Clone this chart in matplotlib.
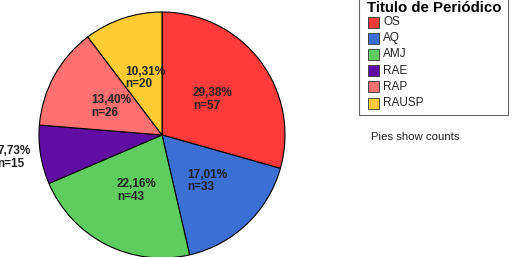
import matplotlib.pyplot as plt
from matplotlib.patches import Rectangle

# data
journals = ["OS", "AQ", "AMJ", "RAE", "RAP", "RAUSP"]
counts = [57, 33, 43, 15, 26, 20]
pct_labels = ["29,38%", "17,01%", "22,16%", "7,73%", "13,40%", "10,31%"]
colors = ["#ff3a3a", "#3b6fd4", "#5ecc5e", "#5f0da3", "#ff7070", "#ffcc33"]

# label anchors (left edge, vertical centre) in pixel coords
label_pos = [(193, 157.5), (187, 76), (117, 66.5), (-3, 99.5), (91, 150.5), (125, 179)]

fig = plt.figure(figsize=(5.12, 2.57), dpi=100)
ax = fig.add_axes([0, 0, 1, 1])
ax.set_xlim(0, 512)
ax.set_ylim(0, 257)
ax.set_aspect("equal")
ax.axis("off")

ax.pie(counts, colors=colors, startangle=90, counterclock=False,
       center=(162, 122), radius=123,
       wedgeprops=dict(edgecolor="black", linewidth=0.8))
ax.set_xlim(0, 512)
ax.set_ylim(0, 257)

for (x, y), p, n in zip(label_pos, pct_labels, counts):
    ax.text(x, y, f"{p}\nn={n}", ha="left", va="center", fontsize=8.5,
            fontweight="bold", color="#222222", linespacing=1.1,
            family="Liberation Sans")

# legend box
ax.add_patch(Rectangle((359, 142), 149, 120, facecolor="white",
                       edgecolor="#666666", linewidth=0.8, zorder=3))
ax.text(367, 249, "Titulo de Periódico", fontsize=10.8, fontweight="bold",
        ha="left", va="center", family="Liberation Sans", zorder=4)
for i, (name, c) in enumerate(zip(journals, colors)):
    y = 235 - i * 16.2
    ax.add_patch(Rectangle((367.5, y - 5.5), 11, 11, facecolor=c,
                           edgecolor="#333333", linewidth=0.6, zorder=4))
    ax.text(383, y, name, fontsize=8.5, ha="left", va="center",
            family="Liberation Sans", color="#222222", zorder=4)

ax.text(371, 120, "Pies show counts", fontsize=8.2, ha="left", va="center",
        family="Liberation Sans", color="#222222")

fig.savefig("out.png", dpi=100)
